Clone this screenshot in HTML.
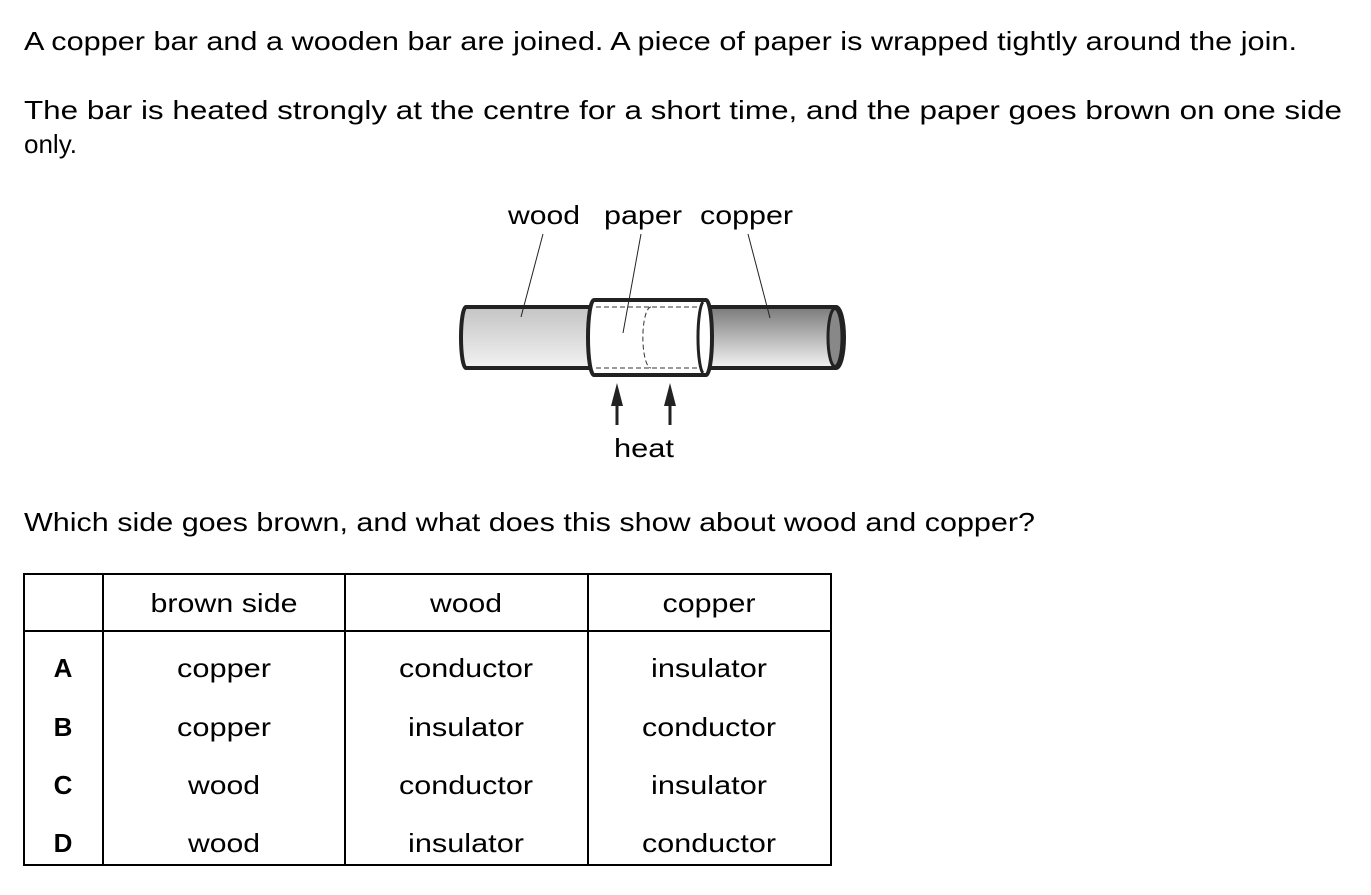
<!DOCTYPE html>
<html><head><meta charset="utf-8"><style>
html,body{margin:0;padding:0;background:#fff;}
svg{display:block;}
text{font-family:"Liberation Sans",Arial,sans-serif;font-size:26px;fill:#000;}
</style></head><body>
<svg width="1371" height="895" viewBox="0 0 1371 895" xmlns="http://www.w3.org/2000/svg">
<defs>
<linearGradient id="gw" x1="0" y1="0" x2="0" y2="1"><stop offset="0" stop-color="#c4c4c4"/><stop offset="1" stop-color="#f2f2f2"/></linearGradient>
<linearGradient id="gc" x1="0" y1="0" x2="0" y2="1"><stop offset="0" stop-color="#7a7a7a"/><stop offset="1" stop-color="#f4f4f4"/></linearGradient>
</defs>
<text x="24" y="50" textLength="1273" lengthAdjust="spacingAndGlyphs">A copper bar and a wooden bar are joined. A piece of paper is wrapped tightly around the join.</text>
<text x="24" y="119" textLength="1318" lengthAdjust="spacingAndGlyphs">The bar is heated strongly at the centre for a short time, and the paper goes brown on one side</text>
<text x="24" y="153" textLength="53" lengthAdjust="spacingAndGlyphs">only.</text>

<text x="508" y="224" textLength="72" lengthAdjust="spacingAndGlyphs">wood</text>
<text x="604" y="224" textLength="78" lengthAdjust="spacingAndGlyphs">paper</text>
<text x="700" y="224" textLength="93" lengthAdjust="spacingAndGlyphs">copper</text>

<!-- wood bar -->
<path d="M466,307 L592,307 L592,368 L466,368 A5,30.5 0 0 1 466,307 Z" fill="url(#gw)" stroke="#222" stroke-width="4"/>
<!-- copper bar -->
<path d="M700,307 L836,307 A8,30.5 0 0 1 836,368 L700,368 Z" fill="url(#gc)" stroke="#222" stroke-width="4"/>
<ellipse cx="835" cy="337.5" rx="7" ry="29" fill="#888" stroke="#222" stroke-width="3"/>
<!-- paper -->
<path d="M594,300 L706,300 A6,37.5 0 0 1 706,375 L594,375 A6,37.5 0 0 1 594,300 Z" fill="#fff" stroke="#222" stroke-width="4"/>
<path d="M703,302 A6,36 0 0 0 703,373" fill="none" stroke="#222" stroke-width="3"/>
<path d="M596,307 L698,307 M596,368 L698,368 M651,307 A8,30 0 0 0 651,368" fill="none" stroke="#333" stroke-width="1" stroke-dasharray="5,3"/>

<!-- leaders -->
<path d="M543,234 L521,317 M641,234 L623,333 M748,234 L770,318" stroke="#222" stroke-width="1" fill="none"/>

<!-- arrows -->
<path d="M617,383 L611,406 L623,406 Z M670,383 L664,406 L676,406 Z" fill="#222"/>
<path d="M617,404 L617,425 M670,404 L670,425" stroke="#222" stroke-width="3"/>
<text x="614" y="457" textLength="60" lengthAdjust="spacingAndGlyphs">heat</text>

<text x="24" y="531" textLength="1011" lengthAdjust="spacingAndGlyphs">Which side goes brown, and what does this show about wood and copper?</text>

<!-- table -->
<g stroke="#000" stroke-width="2" fill="none">
<rect x="24" y="574" width="807" height="291"/>
<line x1="24" y1="631" x2="831" y2="631"/>
<line x1="103" y1="574" x2="103" y2="865"/>
<line x1="345" y1="574" x2="345" y2="865"/>
<line x1="588" y1="574" x2="588" y2="865"/>
</g>
<g text-anchor="middle">
<text x="224" y="612" textLength="147" lengthAdjust="spacingAndGlyphs">brown side</text><text x="466" y="612" textLength="72" lengthAdjust="spacingAndGlyphs">wood</text><text x="709" y="612" textLength="93" lengthAdjust="spacingAndGlyphs">copper</text>
<text x="63" y="677" font-weight="bold">A</text><text x="224" y="677" textLength="94" lengthAdjust="spacingAndGlyphs">copper</text><text x="466" y="677" textLength="134" lengthAdjust="spacingAndGlyphs">conductor</text><text x="709" y="677" textLength="116" lengthAdjust="spacingAndGlyphs">insulator</text>
<text x="63" y="736" font-weight="bold">B</text><text x="224" y="736" textLength="94" lengthAdjust="spacingAndGlyphs">copper</text><text x="466" y="736" textLength="116" lengthAdjust="spacingAndGlyphs">insulator</text><text x="709" y="736" textLength="134" lengthAdjust="spacingAndGlyphs">conductor</text>
<text x="63" y="794" font-weight="bold">C</text><text x="224" y="794" textLength="72" lengthAdjust="spacingAndGlyphs">wood</text><text x="466" y="794" textLength="134" lengthAdjust="spacingAndGlyphs">conductor</text><text x="709" y="794" textLength="116" lengthAdjust="spacingAndGlyphs">insulator</text>
<text x="63" y="852" font-weight="bold">D</text><text x="224" y="852" textLength="72" lengthAdjust="spacingAndGlyphs">wood</text><text x="466" y="852" textLength="116" lengthAdjust="spacingAndGlyphs">insulator</text><text x="709" y="852" textLength="134" lengthAdjust="spacingAndGlyphs">conductor</text>
</g>
</svg>
</body></html>
